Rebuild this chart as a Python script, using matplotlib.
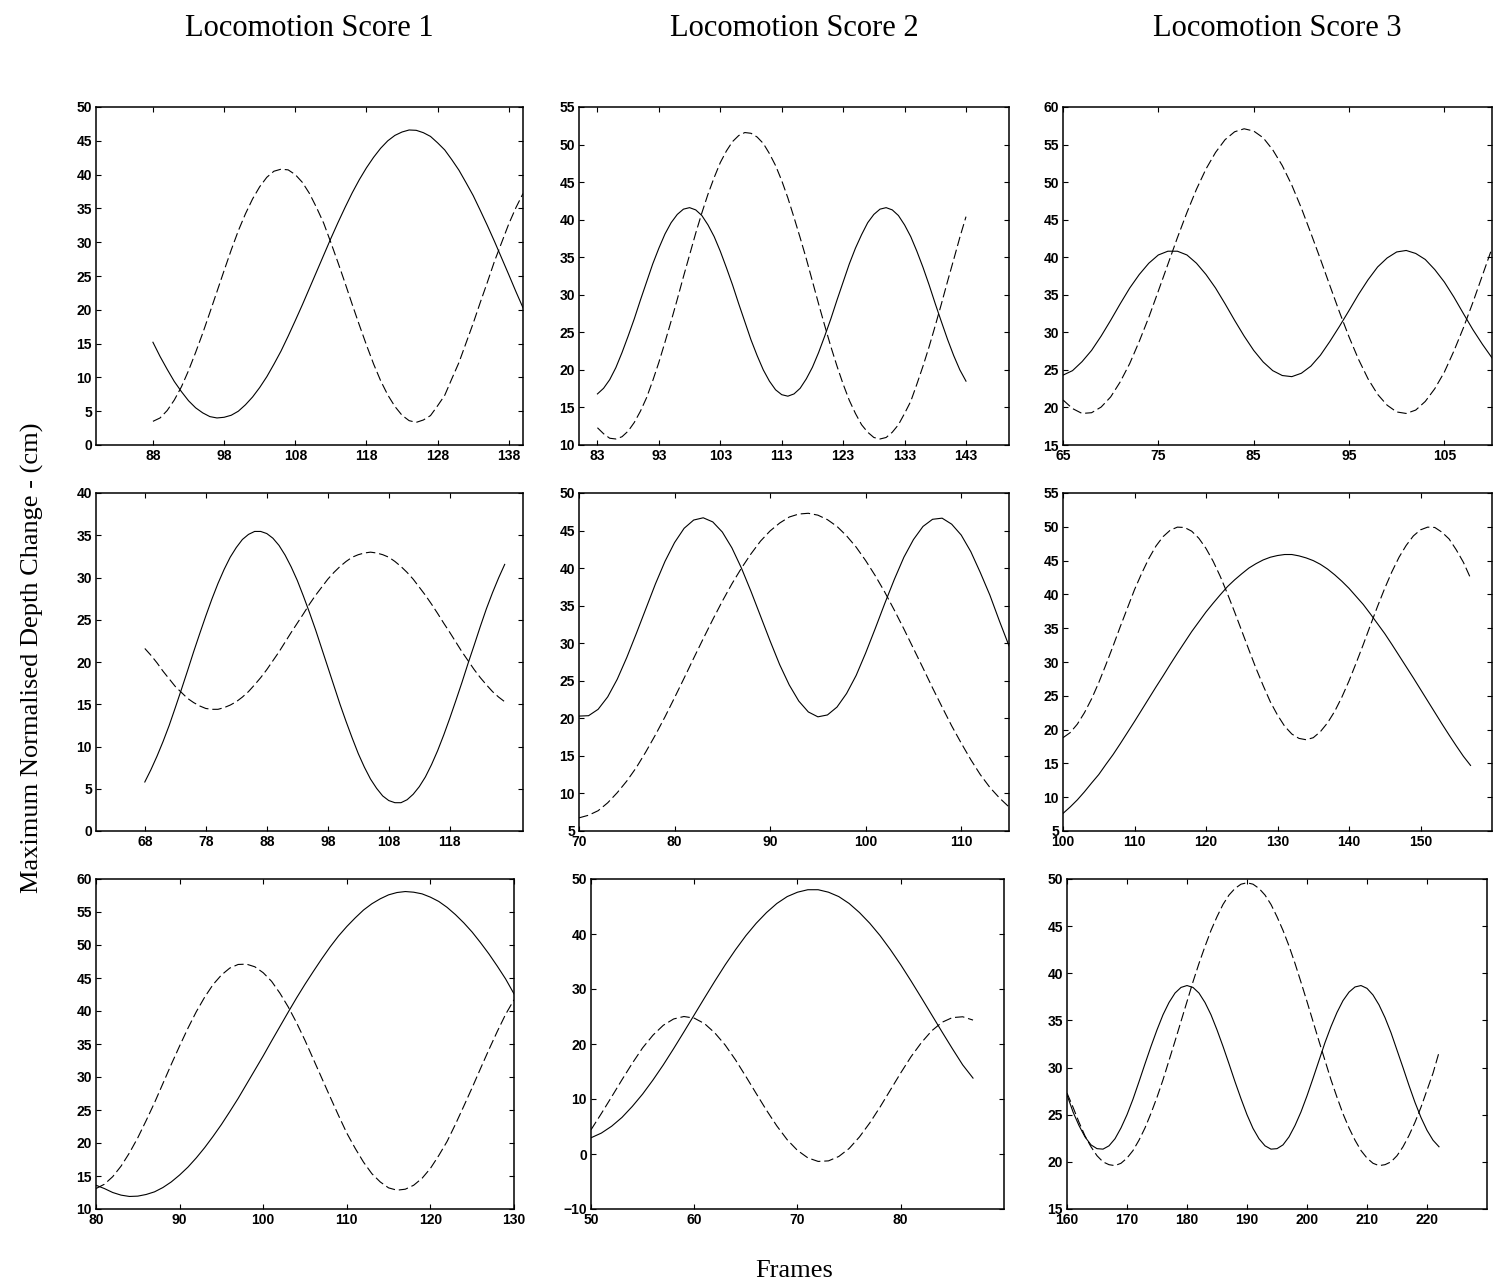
"""Depth-change curves per locomotion score, three recordings for each score."""

import matplotlib

matplotlib.use("Agg")
import matplotlib.pyplot as plt

# Maximum normalised depth change (cm) against frame number, one value per frame.
# Rows of the figure are recordings (a, b, c), columns are locomotion scores 1-3.

# row a
score1_a_frames = list(range(88, 141))
score1_a_solid = [15.2, 13.1, 11.2, 9.4, 7.9, 6.55, 5.5, 4.75, 4.2, 4.0,
                  4.1, 4.4, 5.0, 5.95, 7.1, 8.5, 10.1, 11.95, 13.9, 16.1,
                  18.4, 20.75, 23.2, 25.65, 28.1, 30.55, 32.9, 35.15, 37.3, 39.25,
                  41.0, 42.55, 43.9, 45.0, 45.8, 46.3, 46.6, 46.55, 46.2, 45.65,
                  44.7, 43.65, 42.2, 40.65, 38.8, 36.9, 34.7, 32.45, 30.1, 27.65,
                  25.2, 22.7, 20.3]
score1_a_dashed = [3.5, 4.0, 5.1, 6.65, 8.6, 11.0, 13.7, 16.55, 19.6, 22.7,
                   25.8, 28.85, 31.7, 34.2, 36.4, 38.2, 39.6, 40.5, 40.8, 40.7,
                   40.0, 38.85, 37.2, 35.1, 32.8, 29.95, 27.0, 23.95, 20.8, 17.75,
                   14.8, 12.0, 9.5, 7.4, 5.7, 4.4, 3.6, 3.35, 3.7, 4.35,
                   5.8, 7.35, 9.8, 12.2, 15.1, 18.0, 21.1, 24.1, 27.2, 29.95,
                   32.7, 35.1, 37.2]

score2_a_frames = list(range(83, 144))
score2_a_solid = [16.8, 17.55, 18.7, 20.3, 22.3, 24.5, 26.8, 29.3, 31.7, 34.1,
                  36.2, 38.1, 39.6, 40.7, 41.4, 41.6, 41.3, 40.55, 39.3, 37.75,
                  35.8, 33.6, 31.3, 28.8, 26.4, 24.0, 21.9, 20.0, 18.5, 17.35,
                  16.7, 16.5, 16.8, 17.55, 18.8, 20.35, 22.3, 24.5, 26.8, 29.3,
                  31.7, 34.1, 36.2, 38.0, 39.6, 40.7, 41.4, 41.6, 41.3, 40.55,
                  39.3, 37.75, 35.8, 33.65, 31.3, 28.8, 26.4, 24.05, 21.9, 20.0,
                  18.5]
score2_a_dashed = [12.3, 11.5, 10.9, 10.8, 11.1, 11.85, 13.0, 14.5, 16.3, 18.55,
                   21.0, 23.7, 26.5, 29.4, 32.4, 35.3, 38.2, 40.9, 43.4, 45.6,
                   47.6, 49.15, 50.4, 51.2, 51.6, 51.5, 51.0, 50.15, 48.8, 47.2,
                   45.2, 42.9, 40.3, 37.6, 34.8, 31.8, 28.8, 25.9, 23.1, 20.5,
                   18.1, 15.95, 14.2, 12.7, 11.7, 11.0, 10.8, 11.0, 11.7, 12.7,
                   14.2, 15.8, 18.1, 20.5, 23.1, 25.9, 28.8, 31.8, 34.7, 37.65,
                   40.4]

score3_a_frames = list(range(65, 111))
score3_a_solid = [24.3, 24.9, 26.1, 27.6, 29.5, 31.6, 33.8, 35.9, 37.7, 39.2,
                  40.3, 40.8, 40.8, 40.3, 39.2, 37.7, 35.9, 33.8, 31.6, 29.5,
                  27.6, 26.05, 24.9, 24.25, 24.1, 24.55, 25.5, 26.95, 28.8, 30.8,
                  32.9, 35.05, 37.0, 38.7, 39.9, 40.7, 40.9, 40.5, 39.7, 38.35,
                  36.7, 34.7, 32.5, 30.35, 28.4, 26.6]
score3_a_dashed = [21.0, 19.85, 19.2, 19.3, 20.05, 21.4, 23.4, 25.85, 28.8, 32.0,
                   35.5, 39.05, 42.6, 45.95, 49.05, 51.75, 53.95, 55.65, 56.7, 57.1,
                   56.8, 55.9, 54.3, 52.2, 49.6, 46.55, 43.2, 39.75, 36.2, 32.7,
                   29.4, 26.4, 23.8, 21.75, 20.3, 19.4, 19.2, 19.65, 20.8, 22.5,
                   24.7, 27.5, 30.6, 34.0, 37.6, 41.2]

# row b
score1_b_frames = list(range(68, 128))
score1_b_solid = [5.8, 7.25, 8.85, 10.6, 12.5, 14.6, 16.75, 18.95, 21.2, 23.35,
                  25.45, 27.45, 29.3, 30.95, 32.4, 33.55, 34.5, 35.1, 35.45, 35.45,
                  35.2, 34.65, 33.8, 32.65, 31.25, 29.65, 27.8, 25.85, 23.8, 21.6,
                  19.4, 17.2, 15.0, 12.95, 11.0, 9.15, 7.55, 6.15, 5.05, 4.15,
                  3.6, 3.35, 3.35, 3.7, 4.35, 5.25, 6.4, 7.85, 9.5, 11.35,
                  13.35, 15.45, 17.6, 19.85, 22.0, 24.2, 26.3, 28.2, 29.95, 31.55]
score1_b_dashed = [21.6, 20.8, 19.9, 18.9, 18.0, 17.1, 16.4, 15.7, 15.2, 14.8,
                   14.5, 14.4, 14.4, 14.6, 14.9, 15.3, 15.85, 16.5, 17.3, 18.15,
                   19.1, 20.15, 21.2, 22.35, 23.5, 24.6, 25.7, 26.85, 27.9, 28.85,
                   29.8, 30.6, 31.3, 31.9, 32.4, 32.7, 32.9, 33.0, 32.9, 32.7,
                   32.4, 31.9, 31.3, 30.6, 29.8, 28.85, 27.9, 26.85, 25.75, 24.6,
                   23.5, 22.35, 21.2, 20.15, 19.1, 18.15, 17.3, 16.5, 15.85, 15.3]

score2_b_frames = list(range(70, 116))
score2_b_solid = [20.3, 20.35, 21.2, 22.85, 25.2, 28.1, 31.3, 34.6, 37.9, 40.9,
                  43.4, 45.3, 46.4, 46.7, 46.15, 44.8, 42.7, 40.0, 36.9, 33.6,
                  30.3, 27.15, 24.45, 22.3, 20.85, 20.2, 20.45, 21.5, 23.3, 25.7,
                  28.7, 31.95, 35.3, 38.5, 41.45, 43.8, 45.55, 46.5, 46.65, 45.85,
                  44.4, 42.2, 39.4, 36.4, 32.95, 29.65]
score2_b_dashed = [6.75, 7.1, 7.7, 8.75, 10.1, 11.65, 13.45, 15.55, 17.8, 20.2,
                   22.75, 25.35, 28.0, 30.6, 33.15, 35.6, 37.9, 40.0, 41.9, 43.6,
                   44.95, 46.0, 46.8, 47.2, 47.3, 47.05, 46.45, 45.55, 44.3, 42.8,
                   41.0, 39.0, 36.8, 34.4, 31.9, 29.3, 26.7, 24.05, 21.5, 19.0,
                   16.7, 14.5, 12.5, 10.8, 9.4, 8.2]

score3_b_frames = list(range(100, 158))
score3_b_solid = [7.6, 8.55, 9.6, 10.8, 12.1, 13.35, 14.85, 16.3, 17.9, 19.55,
                  21.2, 22.9, 24.6, 26.3, 27.95, 29.65, 31.3, 32.9, 34.5, 35.95,
                  37.4, 38.7, 39.95, 41.15, 42.15, 43.05, 43.9, 44.55, 45.1, 45.5,
                  45.75, 45.9, 45.9, 45.7, 45.4, 45.0, 44.45, 43.75, 42.9, 41.95,
                  40.9, 39.7, 38.5, 37.1, 35.65, 34.2, 32.6, 30.95, 29.3, 27.65,
                  25.95, 24.25, 22.55, 20.85, 19.2, 17.6, 16.05, 14.7]
score3_b_dashed = [18.8, 19.55, 20.8, 22.5, 24.55, 26.95, 29.6, 32.35, 35.2, 37.95,
                   40.7, 43.1, 45.3, 47.15, 48.55, 49.5, 49.95, 49.9, 49.35, 48.3,
                   46.8, 44.9, 42.65, 40.1, 37.4, 34.6, 31.8, 29.05, 26.5, 24.1,
                   22.15, 20.5, 19.35, 18.7, 18.5, 18.8, 19.7, 21.0, 22.7, 24.8,
                   27.2, 29.85, 32.6, 35.45, 38.25, 40.9, 43.35, 45.5, 47.25, 48.65,
                   49.55, 49.95, 49.9, 49.2, 48.2, 46.6, 44.75, 42.4]

# row c
score1_c_frames = list(range(80, 131))
score1_c_solid = [13.6, 13.1, 12.5, 12.1, 11.9, 11.95, 12.2, 12.6, 13.25, 14.1,
                  15.15, 16.35, 17.75, 19.3, 21.0, 22.8, 24.75, 26.75, 28.9, 31.05,
                  33.2, 35.45, 37.65, 39.85, 42.0, 44.05, 46.0, 47.9, 49.7, 51.35,
                  52.8, 54.1, 55.3, 56.25, 57.0, 57.6, 57.95, 58.1, 58.0, 57.75,
                  57.25, 56.6, 55.7, 54.6, 53.35, 51.95, 50.35, 48.65, 46.8, 44.85,
                  42.6]
score1_c_dashed = [13.1, 13.75, 14.9, 16.5, 18.5, 20.8, 23.4, 26.1, 29.0, 31.9,
                   34.7, 37.4, 39.9, 42.1, 44.0, 45.45, 46.5, 47.05, 47.1, 46.7,
                   45.8, 44.5, 42.7, 40.6, 38.2, 35.55, 32.7, 29.85, 27.0, 24.2,
                   21.5, 19.2, 17.1, 15.35, 14.1, 13.2, 12.85, 13.0, 13.6, 14.65,
                   16.15, 18.1, 20.25, 22.85, 25.6, 28.4, 31.3, 34.15, 36.9, 39.5,
                   41.7]

score2_c_frames = list(range(50, 88))
score2_c_solid = [2.95, 3.8, 5.05, 6.65, 8.65, 10.9, 13.45, 16.2, 19.15, 22.2,
                  25.3, 28.4, 31.45, 34.4, 37.15, 39.7, 41.95, 43.9, 45.55, 46.8,
                  47.6, 48.05, 48.05, 47.6, 46.8, 45.55, 43.9, 41.95, 39.7, 37.15,
                  34.4, 31.45, 28.4, 25.3, 22.2, 19.15, 16.2, 13.8]
score2_c_dashed = [4.4, 7.35, 10.4, 13.5, 16.5, 19.3, 21.6, 23.4, 24.55, 25.0,
                   24.7, 23.7, 22.0, 19.8, 17.1, 14.1, 11.0, 7.95, 5.1, 2.6,
                   0.65, -0.7, -1.35, -1.25, -0.45, 1.0, 3.1, 5.65, 8.55, 11.65,
                   14.75, 17.7, 20.25, 22.4, 23.95, 24.8, 24.95, 24.35]

score3_c_frames = list(range(160, 223))
score3_c_solid = [27.1, 25.3, 23.85, 22.65, 21.8, 21.4, 21.35, 21.7, 22.45, 23.6,
                  25.0, 26.65, 28.5, 30.4, 32.25, 34.0, 35.6, 36.9, 37.9, 38.5,
                  38.7, 38.5, 37.9, 36.9, 35.6, 34.0, 32.25, 30.4, 28.5, 26.7,
                  25.0, 23.55, 22.45, 21.7, 21.35, 21.4, 21.8, 22.65, 23.85, 25.3,
                  27.0, 28.85, 30.75, 32.65, 34.35, 35.85, 37.1, 38.0, 38.55, 38.7,
                  38.4, 37.7, 36.65, 35.3, 33.7, 31.85, 30.0, 28.1, 26.3, 24.7,
                  23.35, 22.3, 21.6]
score3_c_dashed = [27.3, 25.8, 24.2, 22.75, 21.6, 20.65, 20.0, 19.7, 19.6, 19.85,
                   20.4, 21.2, 22.3, 23.6, 25.15, 26.85, 28.7, 30.75, 32.8, 34.9,
                   37.0, 39.1, 41.05, 42.85, 44.55, 46.0, 47.3, 48.3, 49.0, 49.45,
                   49.6, 49.45, 49.0, 48.3, 47.3, 46.0, 44.55, 42.9, 41.05, 39.05,
                   37.0, 34.9, 32.8, 30.75, 28.7, 26.85, 25.1, 23.6, 22.3, 21.2,
                   20.4, 19.85, 19.6, 19.7, 20.0, 20.65, 21.6, 22.8, 24.2, 25.8,
                   27.6, 29.4, 31.6]

column_titles = ["Locomotion Score 1", "Locomotion Score 2", "Locomotion Score 3"]

# axis ranges and tick marks, same row/column order as above
x_limits = [[(80, 140), (80, 150), (65, 110)],
            [(60, 130), (70, 115), (100, 160)],
            [(80, 130), (50, 90), (160, 230)]]
y_limits = [[(0, 50), (10, 55), (15, 60)],
            [(0, 40), (5, 50), (5, 55)],
            [(10, 60), (-10, 50), (15, 50)]]
x_ticks = [[range(88, 139, 10), range(83, 144, 10), range(65, 106, 10)],
           [range(68, 119, 10), range(70, 111, 10), range(100, 151, 10)],
           [range(80, 131, 10), range(50, 81, 10), range(160, 221, 10)]]
y_steps = [[5, 5, 5], [5, 5, 5], [5, 10, 5]]

panels = [
    [(score1_a_frames, score1_a_solid, score1_a_dashed),
     (score2_a_frames, score2_a_solid, score2_a_dashed),
     (score3_a_frames, score3_a_solid, score3_a_dashed)],
    [(score1_b_frames, score1_b_solid, score1_b_dashed),
     (score2_b_frames, score2_b_solid, score2_b_dashed),
     (score3_b_frames, score3_b_solid, score3_b_dashed)],
    [(score1_c_frames, score1_c_solid, score1_c_dashed),
     (score2_c_frames, score2_c_solid, score2_c_dashed),
     (score3_c_frames, score3_c_solid, score3_c_dashed)],
]

W, H = 1494, 1286
SERIF = "Liberation Serif"
SANS = "Liberation Sans"

# pixel boxes of the axes: (left, right) per panel, (top, bottom) per row
COL_BOXES = [[(96, 523), (579, 1009), (1063, 1492)],
             [(96, 523), (579, 1009), (1063, 1492)],
             [(96, 514), (591, 1004), (1067, 1487)]]
ROW_BOXES = [(107, 445), (493, 831), (879, 1209)]


def _rect(x0, x1, y0, y1):
    return [x0 / W, 1 - y1 / H, (x1 - x0) / W, (y1 - y0) / H]


def draw_panel(ax, frames, solid, dashed, xlim, ylim, xticks, ystep):
    ax.plot(frames, solid, color="black", lw=0.8)
    ax.plot(frames, dashed, color="black", lw=0.8, dashes=(8.5, 3.5))
    ax.set_xlim(*xlim)
    ax.set_ylim(*ylim)
    ax.set_xticks(list(xticks))
    ax.set_yticks(list(range(ylim[0], ylim[1] + 1, ystep)))
    ax.tick_params(direction="in", length=3.8, width=0.8, top=True, right=True,
                   labelsize=10, pad=3)
    for label in ax.get_xticklabels() + ax.get_yticklabels():
        label.set_fontfamily(SANS)
        label.set_fontweight("bold")
    for spine in ax.spines.values():
        spine.set_linewidth(1.1)


fig = plt.figure(figsize=(W / 100, H / 100), dpi=100)
for r in range(3):
    top, bottom = ROW_BOXES[r]
    for c in range(3):
        left, right = COL_BOXES[r][c]
        ax = fig.add_axes(_rect(left, right, top, bottom))
        frames, solid, dashed = panels[r][c]
        draw_panel(ax, frames, solid, dashed, x_limits[r][c], y_limits[r][c],
                   x_ticks[r][c], y_steps[r][c])

for c, title in enumerate(column_titles):
    left, right = COL_BOXES[0][c]
    fig.text((left + right) / 2 / W, 1 - 28 / H, title, family=SERIF, size=22,
             ha="center", va="center")

fig.text(794 / W, 1 - 1271 / H, "Frames", family=SERIF, size=19, ha="center", va="center")
fig.text(32 / W, 1 - 658 / H, "Maximum Normalised Depth Change - (cm)", family=SERIF, size=19,
         rotation=90, ha="center", va="center")

fig.savefig("out.png", dpi=100)
plt.close(fig)
